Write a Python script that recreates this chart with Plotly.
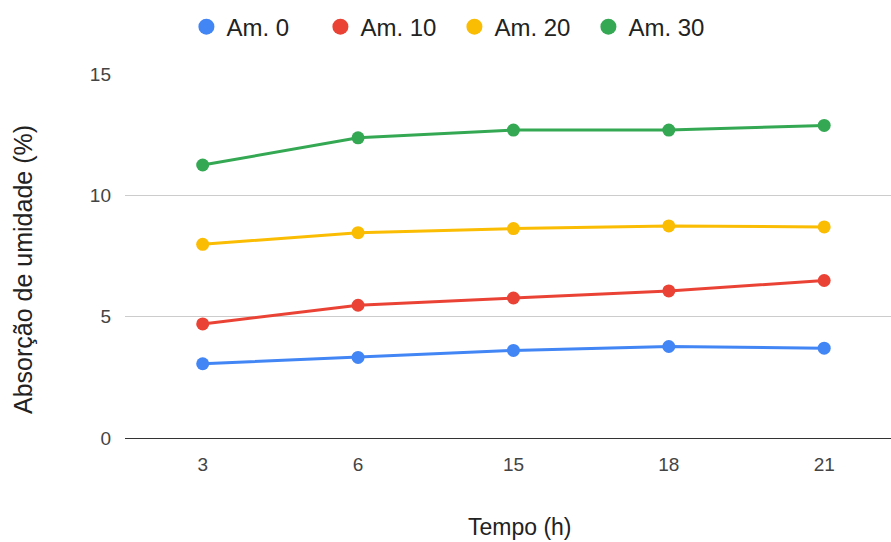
import plotly.graph_objects as go

categories = ["3", "6", "15", "18", "21"]
am0 = [3.06, 3.32, 3.61, 3.77, 3.70]
am10 = [4.70, 5.47, 5.77, 6.06, 6.49]
am20 = [7.98, 8.46, 8.63, 8.74, 8.70]
am30 = [11.25, 12.37, 12.69, 12.69, 12.88]
series_names = ["Am. 0", "Am. 10", "Am. 20", "Am. 30"]
colors = ["#4285F4", "#EA4335", "#FBBC04", "#34A853"]
x_title = "Tempo (h)"
y_title = "Absorção de umidade (%)"

fig = go.Figure()
for name, vals, c in zip(series_names, [am0, am10, am20, am30], colors):
    fig.add_trace(go.Scatter(
        x=categories, y=vals, name=name, mode="lines+markers",
        line=dict(color=c, width=3), marker=dict(color=c, size=13),
        legendgroup=name, showlegend=False,
    ))
    # legend entry: circle only
    fig.add_trace(go.Scatter(
        x=[None], y=[None], name=name, mode="markers",
        marker=dict(color=c, size=18), legendgroup=name, showlegend=True,
    ))

W, H = 891, 542
L, R, T, B = 125, 0, 74, 104
pw, ph = W - L - R, H - T - B

font = "Liberation Sans, Arial, sans-serif"
fig.update_layout(
    width=W, height=H,
    margin=dict(l=L, r=R, t=T, b=B),
    paper_bgcolor="white", plot_bgcolor="white",
    font=dict(family=font, color="#222222"),
    showlegend=True,
    legend=dict(orientation="h", xref="container", x=0.51, xanchor="center",
                yref="container", y=0.95, yanchor="middle",
                font=dict(size=24, color="#222222"),
                entrywidth=89, entrywidthmode="pixels",
                bgcolor="rgba(0,0,0,0)"),
    xaxis=dict(type="category", range=[-0.5, 4.43], showgrid=False,
               tickfont=dict(size=19, color="#444444"),
               ticks="", ticklabelstandoff=13,
               showline=False, zeroline=False),
    yaxis=dict(range=[0, 15], tickvals=[0, 5, 10, 15], showgrid=True,
               gridcolor="#cccccc", gridwidth=1,
               zeroline=True, zerolinecolor="#333333", zerolinewidth=1,
               tickfont=dict(size=19, color="#444444"),
               ticks="", ticklabelstandoff=13,
               showline=False),
    annotations=[
        dict(text=x_title, xref="paper", yref="paper",
             x=(520 - L) / pw, y=(H - B - 527) / ph,
             xanchor="center", yanchor="middle", showarrow=False,
             font=dict(size=23, color="#222222")),
        dict(text=y_title, xref="paper", yref="paper", textangle=-90,
             x=(23 - L) / pw, y=(H - B - 270) / ph,
             xanchor="center", yanchor="middle", showarrow=False,
             font=dict(size=25, color="#222222")),
    ],
)
fig.write_html("out.html")
